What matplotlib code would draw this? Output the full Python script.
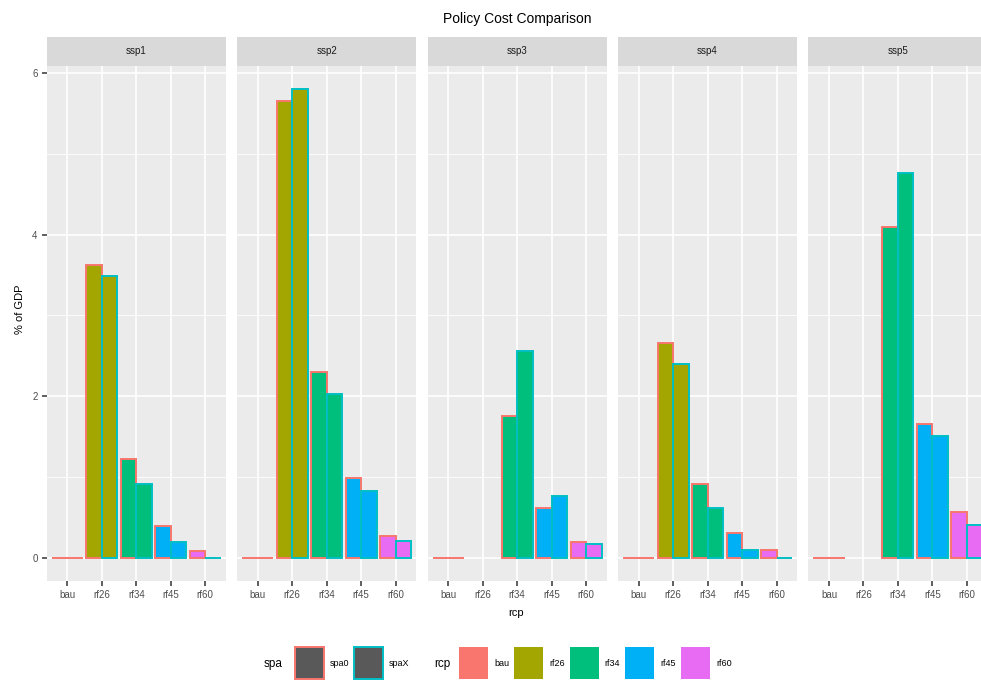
import matplotlib.pyplot as plt
import numpy as np
from matplotlib.patches import Rectangle

plt.rcParams['font.family'] = ['Liberation Sans', 'DejaVu Sans']

# ---- data (policy cost, % of GDP) ----
scenarios = ['ssp1', 'ssp2', 'ssp3', 'ssp4', 'ssp5']
rcps = ['bau', 'rf26', 'rf34', 'rf45', 'rf60']
spa_levels = ['spa0', 'spaX']
nan = np.nan
# rows = scenarios, cols = rcps; nan = no run
cost_spa0 = [
    [0.0, 3.63, 1.22, 0.395, 0.086],
    [0.0, 5.66, 2.30, 0.985, 0.264],
    [0.0, nan, 1.76, 0.61, 0.198],
    [0.0, 2.66, 0.906, 0.305, 0.091],
    [0.0, nan, 4.09, 1.65, 0.568],
]
cost_spaX = [
    [nan, 3.49, 0.91, 0.194, 0.0],
    [nan, 5.80, 2.03, 0.82, 0.206],
    [nan, nan, 2.56, 0.76, 0.165],
    [nan, 2.40, 0.617, 0.095, 0.0],
    [nan, nan, 4.77, 1.51, 0.40],
]
y_ticks = [0, 2, 4, 6]

rcp_colors = ['#F8766D', '#A3A500', '#00BF7D', '#00B0F6', '#E76BF3']
spa_colors = ['#F8766D', '#00BFC4']

W, H = 981, 681
fig = plt.figure(figsize=(W / 100, H / 100), dpi=100)
fig.patch.set_facecolor('white')


def fx(px):
    return px / W


def fy(py):
    # py measured from top
    return 1 - py / H


panel_left0 = 46.7
panel_step = 190.4
panel_w = 179.3
panel_top, panel_bot = 66.0, 581.0
strip_top = 36.7

vals0 = np.array(cost_spa0, dtype=float)
valsX = np.array(cost_spaX, dtype=float)
ymax = np.nanmax([np.nanmax(vals0), np.nanmax(valsX)])
ylim = (-0.05 * ymax, ymax * 1.05)

text_col = '#4D4D4D'
tick_col = '#333333'

for i, ssp in enumerate(scenarios):
    left = panel_left0 + i * panel_step
    ax = fig.add_axes([fx(left), fy(panel_bot), fx(panel_w), (panel_bot - panel_top) / H])
    ax.set_facecolor('#EBEBEB')
    ax.set_xlim(0.4, 5.6)
    ax.set_ylim(*ylim)
    for s in ax.spines.values():
        s.set_visible(False)
    # grid
    for yv in [1, 3, 5]:
        ax.axhline(yv, color='white', lw=0.6, zorder=0)
    for yv in y_ticks:
        ax.axhline(yv, color='white', lw=1.2, zorder=0)
    for xv in range(1, len(rcps) + 1):
        ax.axvline(xv, color='white', lw=1.2, zorder=0)

    for j, rcp in enumerate(rcps):
        xc = j + 1
        v0, vX = vals0[i, j], valsX[i, j]
        present = [(k, v) for k, v in enumerate([v0, vX]) if not np.isnan(v)]
        if not present:
            continue
        n = len(present)
        bw = 0.9 / n
        for m, (k, v) in enumerate(present):
            xpos = xc - 0.45 + bw * (m + 0.5)
            ax.bar(xpos, v, width=bw, color=rcp_colors[j], edgecolor=spa_colors[k],
                   linewidth=1.4, zorder=2 + k)

    ax.set_xticks(range(1, len(rcps) + 1))
    ax.set_xticklabels(rcps, fontsize=7, color=text_col)
    ax.tick_params(axis='x', length=3.5, width=1.1, color=tick_col, pad=3)
    ax.set_yticks(y_ticks)
    if i == 0:
        ax.set_yticklabels([str(t) for t in y_ticks], fontsize=7, color=text_col)
        ax.tick_params(axis='y', length=3.5, width=1.1, color=tick_col, pad=3)
    else:
        ax.tick_params(axis='y', length=0, labelleft=False)

    # strip
    sax = fig.add_axes([fx(left), fy(panel_top), fx(panel_w), (panel_top - strip_top) / H])
    sax.set_facecolor('#D9D9D9')
    sax.set_xticks([])
    sax.set_yticks([])
    for s in sax.spines.values():
        s.set_visible(False)
    sax.text(0.5, 0.5, ssp, ha='center', va='center', fontsize=7, color='#1A1A1A',
             transform=sax.transAxes)

# titles
fig.text(fx(517), fy(18.5), 'Policy Cost Comparison', ha='center', va='center',
         fontsize=10, color='black')
fig.text(fx(516), fy(613), 'rcp', ha='center', va='center', fontsize=8, color='black')
fig.text(fx(20), fy(309), '% of GDP', ha='center', va='center', rotation=90,
         fontsize=8, color='black')

# legend
key_w, key_h = 29, 32
key_top = 647
leg_y = 664


def add_key(x_left, face, edge=None):
    r = Rectangle((fx(x_left), fy(key_top + key_h)), fx(key_w), key_h / H,
                  transform=fig.transFigure, facecolor=face,
                  edgecolor=edge if edge else face, linewidth=1.4 if edge else 0)
    fig.patches.append(r)


fig.text(fx(264), fy(leg_y), 'spa', ha='left', va='center', fontsize=8.5, color='black')
spa_key_x = [295, 354]
for k, lab in enumerate(spa_levels):
    add_key(spa_key_x[k], '#595959', spa_colors[k])
    fig.text(fx(spa_key_x[k] + key_w + 6), fy(leg_y), lab, ha='left', va='center',
             fontsize=6.5, color='black')

fig.text(fx(434), fy(leg_y), 'rcp', ha='left', va='center', fontsize=8.5, color='black')
rcp_key_x = [459, 514, 569.5, 625, 681]
for j, lab in enumerate(rcps):
    add_key(rcp_key_x[j], rcp_colors[j])
    fig.text(fx(rcp_key_x[j] + key_w + 6), fy(leg_y), lab, ha='left', va='center',
             fontsize=6.5, color='black')

fig.savefig('out.png', dpi=100)
